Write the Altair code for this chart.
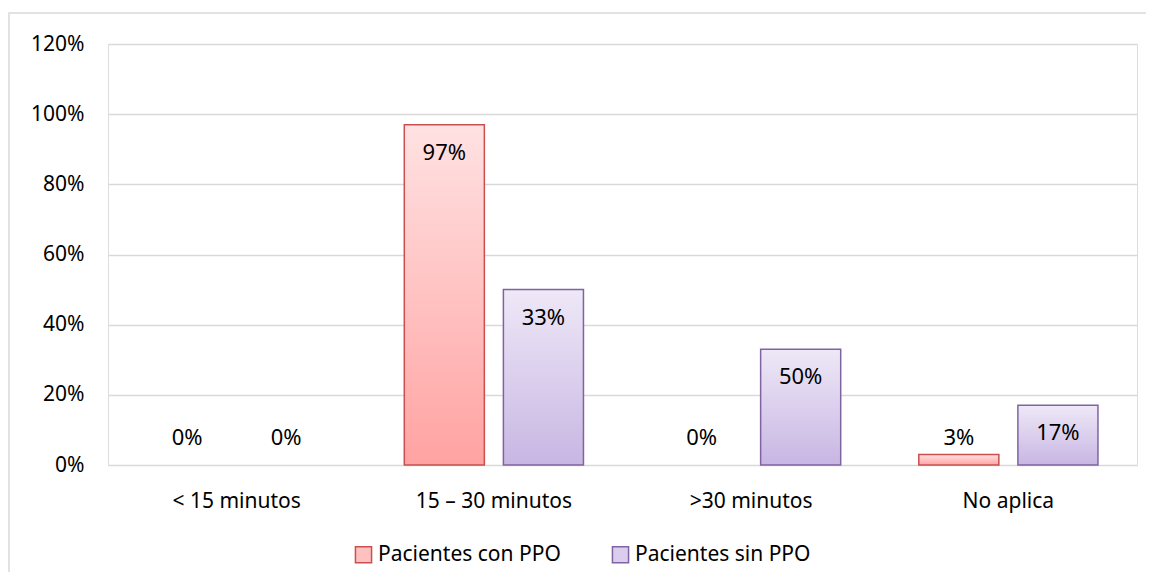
import altair as alt
import pandas as pd

categories = ["< 15 minutos", "15 – 30 minutos", ">30 minutos", "No aplica"]
series = ["Pacientes con PPO", "Pacientes sin PPO"]
con_values = [0, 97, 0, 3]
sin_values = [0, 50, 33, 17]
con_labels = [0, 97, 0, 3]
sin_labels = [0, 33, 50, 17]
y_ticks = [0, 20, 40, 60, 80, 100, 120]

rows = []
for c, v, l in zip(categories, con_values, con_labels):
    rows.append({"cat": c, "serie": series[0], "v": v, "lbl": l})
for c, v, l in zip(categories, sin_values, sin_labels):
    rows.append({"cat": c, "serie": series[1], "v": v, "lbl": l})
df = pd.DataFrame(rows)

FONT = "Noto Sans"
FS = 21
W, H = 1029, 421

x_enc = alt.X("cat:N", sort=categories, title=None,
              scale=alt.Scale(domain=categories, paddingInner=0, paddingOuter=0),
              axis=alt.Axis(domain=False, ticks=False, labelAngle=0, labelFontSize=FS,
                            labelFont=FONT, labelColor="#000000", labelPadding=25))
xo_enc = alt.XOffset("serie:N", sort=series,
                     scale=alt.Scale(domain=series, paddingInner=0.192, paddingOuter=0.394))
y_enc = alt.Y("v:Q", title=None,
              scale=alt.Scale(domain=[0, 120], nice=False),
              axis=alt.Axis(values=y_ticks, labelExpr="datum.value + '%'", domain=False,
                            ticks=False, grid=True, gridColor="#d9d9d9", gridWidth=1.5,
                            labelFontSize=FS, labelFont=FONT, labelColor="#000000",
                            labelPadding=24))

def grad(top, bottom):
    return alt.Gradient(gradient="linear", x1=0, x2=0, y1=0, y2=1,
                        stops=[alt.GradientStop(color=top, offset=0),
                               alt.GradientStop(color=bottom, offset=1)])

base = alt.Chart(df)

bars_con = base.transform_filter(
    (alt.datum.serie == series[0]) & (alt.datum.v > 0)
).mark_bar(color=grad("#ffe2e2", "#ffa3a2"), stroke="#c9504e", strokeWidth=1.5).encode(
    x=x_enc, xOffset=xo_enc, y=y_enc)

bars_sin = base.transform_filter(
    (alt.datum.serie == series[1]) & (alt.datum.v > 0)
).mark_bar(color=grad("#eee8f7", "#c8b6e3"), stroke="#8064a2", strokeWidth=1.5).encode(
    x=x_enc, xOffset=xo_enc, y=y_enc)

texts = base.transform_calculate(
    ly="datum.v > 10 ? datum.v - 8 : 7.7",
    txt="datum.lbl + '%'"
).mark_text(fontSize=22, font=FONT, color="#000000", baseline="middle").encode(
    x=x_enc, xOffset=xo_enc, y=alt.Y("ly:Q"), text="txt:N")

legend_layer = base.mark_square(opacity=0, size=10).encode(
    x=x_enc, xOffset=xo_enc, y=y_enc,
    fill=alt.Fill("serie:N", sort=series,
                  scale=alt.Scale(domain=series, range=["#ffc0c0", "#dacdee"]),
                  legend=alt.Legend(title=None, orient="none", direction="horizontal",
                                    legendX=245, legendY=500, symbolType="square",
                                    symbolSize=260, symbolOpacity=1, symbolStrokeWidth=1.5,
                                    labelFontSize=FS, labelFont=FONT, labelColor="#000000",
                                    labelLimit=0, columnPadding=48, labelOffset=4)),
    stroke=alt.Stroke("serie:N", sort=series,
                      scale=alt.Scale(domain=series, range=["#c9504e", "#8064a2"]),
                      legend=None),
)

border = alt.Chart(pd.DataFrame({"a": [0]})).mark_rect(
    fill=None, stroke="#d9d9d9", strokeWidth=1.5
).encode(x=alt.value(-99), x2=alt.value(W + 40), y=alt.value(-31), y2=alt.value(H + 200))

chart = alt.layer(border, bars_con, bars_sin, texts, legend_layer).properties(
    width=W, height=H,
    padding={"left": 100, "top": 36, "right": 9, "bottom": 107},
    autosize=alt.AutoSizeParams(type="none"),
).configure_view(stroke=None).configure(background="#ffffff")

chart.save("out.html", embed_options={"renderer": "svg", "actions": False})
